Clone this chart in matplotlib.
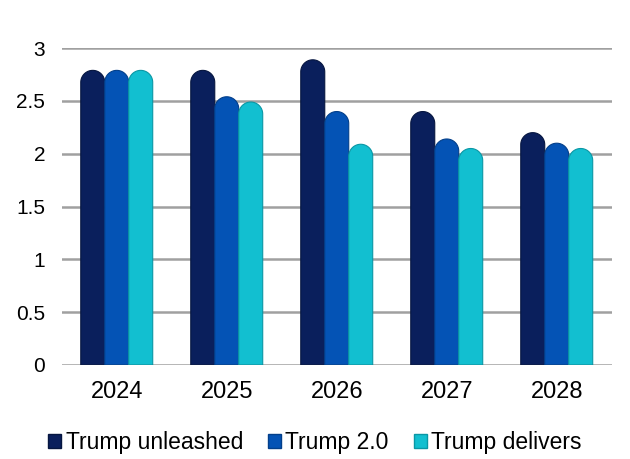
import matplotlib.pyplot as plt
from matplotlib.patches import Polygon, Patch
import numpy as np

plt.rcParams['font.family'] = ['Liberation Sans', 'DejaVu Sans']

years = ['2024', '2025', '2026', '2027', '2028']
series = ['Trump unleashed', 'Trump 2.0', 'Trump delivers']
unleashed = [2.79, 2.79, 2.89, 2.40, 2.20]
trump20 = [2.79, 2.54, 2.40, 2.14, 2.10]
delivers = [2.79, 2.49, 2.09, 2.05, 2.05]
colors = ['#0a1f5c', '#0453b5', '#12bfd0']
edges = ['#061640', '#033f8a', '#0a97a5']

fig = plt.figure(figsize=(6.3, 4.59), dpi=100)
ax = fig.add_axes([0.098, 0.205, 0.873, 0.69])

x = np.arange(len(years))
w = 0.218
ylim = (0, 3)
ax.set_xlim(-0.5, len(years) - 0.5)
ax.set_ylim(*ylim)

# rounded top: radius = half bar width in pixels, converted to y data units
bbox = ax.get_window_extent()
px_per_x = bbox.width / len(years)
px_per_y = bbox.height / (ylim[1] - ylim[0])
r_y = (w * px_per_x / 2) / px_per_y
t = np.linspace(0, np.pi, 40)

for i, (vals, c, ec) in enumerate(zip([unleashed, trump20, delivers], colors, edges)):
    xs = x + (i - 1) * w
    for xi, v in zip(xs, vals):
        cy = v - r_y
        arc_x = xi + (w / 2) * np.cos(t)
        arc_y = cy + r_y * np.sin(t)
        pts = np.column_stack([
            np.concatenate([[xi + w / 2], arc_x, [xi - w / 2]]),
            np.concatenate([[0], arc_y, [0]]),
        ])
        ax.add_patch(Polygon(pts, closed=True, facecolor=c, edgecolor=ec,
                             linewidth=0.8, zorder=3))

ax.set_yticks([0, 0.5, 1, 1.5, 2, 2.5, 3])
ax.set_yticklabels(['0', '0.5', '1', '1.5', '2', '2.5', '3'])
ax.set_xticks(x)
ax.set_xticklabels(years)
ax.grid(axis='y', color='#a0a0a0', linewidth=1.8, zorder=0)
ax.tick_params(length=0)
ax.tick_params(axis='y', pad=12, labelsize=15)
ax.tick_params(axis='x', pad=11.5, labelsize=17)
for s in ax.spines.values():
    s.set_visible(False)

handles = [Patch(facecolor=c, edgecolor=ec, label=s) for c, ec, s in zip(colors, edges, series)]
fig.legend(handles=handles, loc='center', ncol=3, frameon=False,
           fontsize=16.5, handlelength=0.55, handleheight=0.55,
           handletextpad=0.2, columnspacing=1.1, bbox_to_anchor=(0.5, 0.035))

fig.savefig('out.png', dpi=100)
